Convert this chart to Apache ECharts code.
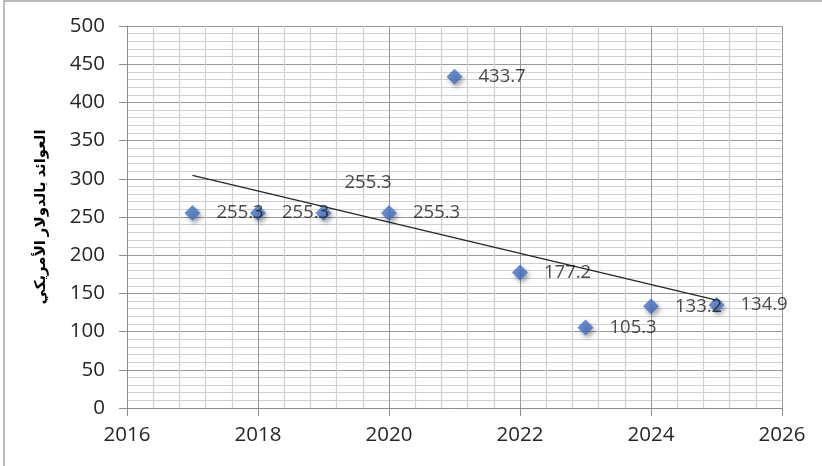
<!DOCTYPE html>
<html>
<head>
<meta charset="utf-8">
<script src="https://cdn.jsdelivr.net/npm/echarts@6/dist/echarts.min.js"></script>
<style>
  html, body { margin: 0; padding: 0; background: #fff; }
  #chart { width: 822px; height: 466px; }
</style>
</head>
<body>
<div id="chart"></div>
<script>
// Yearly returns in US dollars
const years = [2017, 2018, 2019, 2020, 2021, 2022, 2023, 2024, 2025];
const returns = [255.3, 255.3, 255.3, 255.3, 433.7, 177.2, 105.3, 133.2, 134.9];
const yAxisTitle = 'العوائد بالدولار الأمريكي';

// Least-squares linear trend across the series
function linearTrend(xs, ys) {
  const n = xs.length;
  const mx = xs.reduce((a, b) => a + b, 0) / n;
  const my = ys.reduce((a, b) => a + b, 0) / n;
  let sxy = 0, sxx = 0;
  for (let i = 0; i < n; i++) {
    sxy += (xs[i] - mx) * (ys[i] - my);
    sxx += (xs[i] - mx) * (xs[i] - mx);
  }
  const slope = sxy / sxx;
  const b = my - slope * mx;
  const x0 = xs[0], x1 = xs[n - 1];
  return [[x0, slope * x0 + b], [x1, slope * x1 + b]];
}

const points = years.map((y, i) => {
  const p = { value: [y, returns[i]] };
  // the 2019 label sits above its marker
  if (y === 2019) p.label = { offset: [-3, -30] };
  return p;
});

const chart = echarts.init(document.getElementById('chart'));
const font = '"Open Sans", "Noto Sans", sans-serif';

chart.setOption({
  animation: false,
  graphic: [{
    type: 'rect',
    shape: { x: 4, y: 1, width: 840, height: 490 },
    style: { fill: 'none', stroke: '#a6a6a6', lineWidth: 1.5 },
    silent: true, z: -10
  }],
  grid: { left: 127, right: 40, top: 26, bottom: 58 },
  xAxis: {
    type: 'value',
    min: 2016, max: 2026, interval: 2,
    axisLine: { onZero: false, lineStyle: { color: '#8c8c8c' } },
    axisTick: { show: true, length: 8, lineStyle: { color: '#8c8c8c' } },
    axisLabel: { color: '#262626', fontFamily: font, fontSize: 20.5, margin: 17, formatter: v => String(v) },
    splitLine: { show: true, lineStyle: { color: '#9a9a9a', width: 1 } },
    minorTick: { show: true, splitNumber: 5, length: 0 },
    minorSplitLine: { show: true, lineStyle: { color: '#d0d0d0', width: 1.2 } }
  },
  yAxis: {
    type: 'value',
    min: 0, max: 500, interval: 50,
    name: yAxisTitle,
    nameLocation: 'middle',
    nameRotate: 90,
    nameGap: 79,
    nameTextStyle: { fontFamily: '"Noto Sans", "DejaVu Sans", sans-serif', fontWeight: 'bold', fontSize: 15, color: '#000' },
    axisLine: { show: true, lineStyle: { color: '#8c8c8c' } },
    axisTick: { show: true, length: 8, lineStyle: { color: '#8c8c8c' } },
    axisLabel: { color: '#262626', fontFamily: font, fontSize: 20.5, margin: 22 },
    splitLine: { show: true, lineStyle: { color: '#9a9a9a', width: 1 } },
    minorTick: { show: true, splitNumber: 5, length: 0 },
    minorSplitLine: { show: true, lineStyle: { color: '#d0d0d0', width: 1.2 } }
  },
  series: [
    {
      type: 'line',
      data: linearTrend(years, returns),
      symbol: 'none',
      lineStyle: { color: '#262626', width: 1.3 },
      silent: true,
      z: 1
    },
    {
      type: 'scatter',
      data: points,
      symbol: 'diamond',
      symbolSize: [16, 16],
      itemStyle: {
        color: '#4472C4',
        shadowColor: 'rgba(0,0,0,0.45)',
        shadowBlur: 5,
        shadowOffsetX: 2,
        shadowOffsetY: 3
      },
      label: {
        show: true,
        position: 'right',
        distance: 16,
        color: '#1a1a1a',
        fontFamily: font,
        fontSize: 18.5,
        formatter: p => p.value[1].toFixed(1)
      },
      z: 2
    }
  ]
});
</script>
</body>
</html>
